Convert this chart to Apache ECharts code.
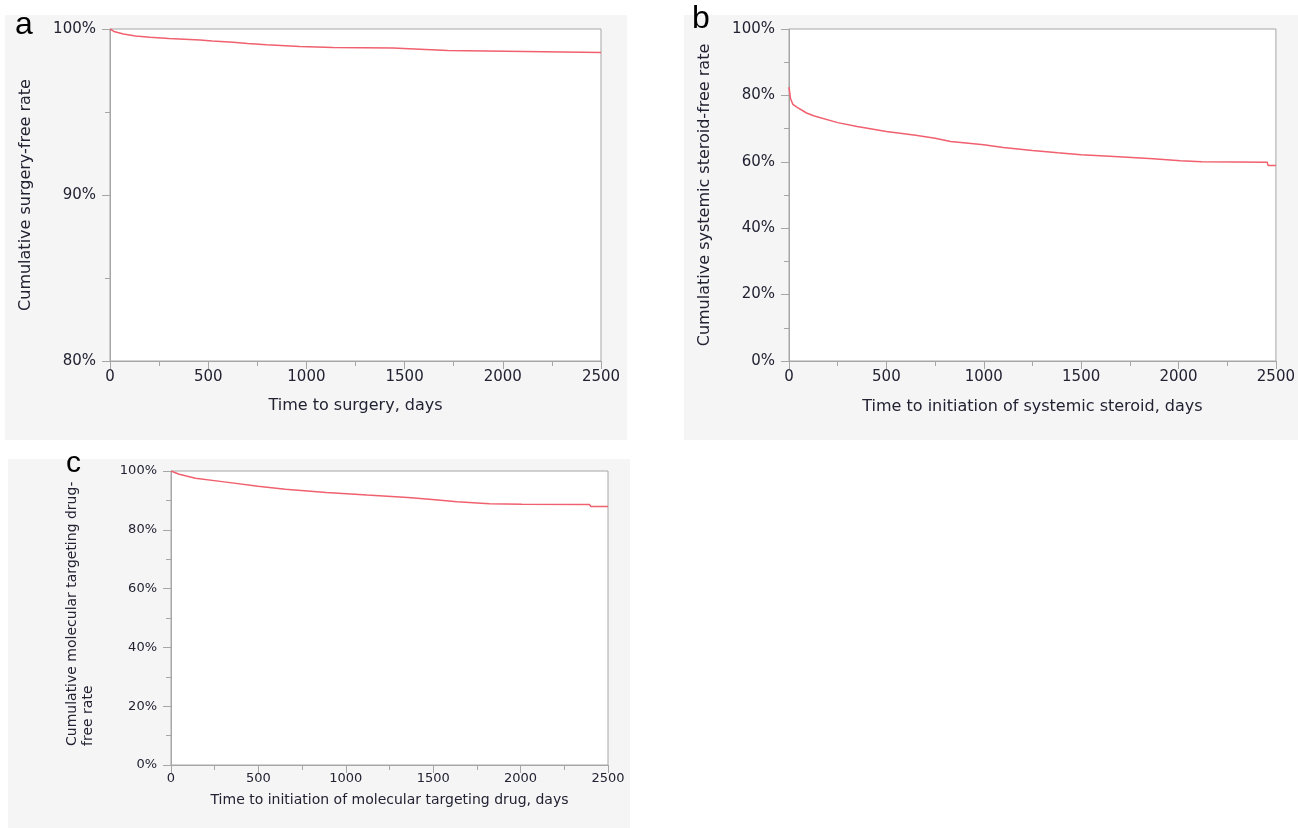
<!DOCTYPE html>
<html>
<head>
<meta charset="utf-8">
<script src="https://cdn.jsdelivr.net/npm/echarts@6/dist/echarts.min.js"></script>
<style>
html,body{margin:0;padding:0;background:#fff;}
#chart{width:1298px;height:828px;}
</style>
</head>
<body>
<div id="chart"></div>
<script>
// Panel a: time to surgery (days) vs cumulative surgery-free rate (%)
var daysA = [0, 20, 68, 130, 203, 300, 458, 520, 627, 700, 797, 966, 1136, 1441, 1450, 1551, 1555, 1720, 1722, 2500];
var rateA = [100, 99.85, 99.7, 99.58, 99.5, 99.43, 99.34, 99.28, 99.2, 99.13, 99.05, 98.95, 98.88, 98.86, 98.8, 98.8, 98.71, 98.71, 98.59, 98.58];

// Panel b: time to initiation of systemic steroid (days) vs steroid-free rate (%)
var daysB = [0, 8, 20, 40, 90, 130, 250, 350, 500, 650, 750, 830, 1000, 1100, 1250, 1380, 1500, 1670, 1675, 1870, 1875, 2010, 2120, 2455, 2460, 2500];
var rateB = [82.5, 79, 77.3, 76.5, 74.7, 73.8, 71.8, 70.6, 69.1, 68.0, 67.1, 66.1, 65.1, 64.3, 63.4, 62.7, 62.1, 61.6, 61.1, 60.9, 60.5, 60.3, 60.0, 59.9, 58.9, 58.9];

// Panel c: time to initiation of molecular targeting drug (days) vs drug-free rate (%)
var daysC = [0, 47, 140, 304, 498, 654, 888, 1121, 1355, 1495, 1636, 1822, 2009, 2395, 2402, 2500];
var rateC = [100, 98.9, 97.5, 96.3, 94.8, 93.8, 92.7, 91.8, 91.0, 90.3, 89.5, 88.9, 88.7, 88.6, 87.9, 87.9];

// Axis ticks / names
var xTicksMax = 2500, xTickStep = 500;
var yRangeA = [80, 100], yStepA = 10;
var yRangeBC = [0, 100], yStepBC = 20;
var panelLetters = ['a', 'b', 'c'];
var xNames = ['Time to surgery, days', 'Time to initiation of systemic steroid, days', 'Time to initiation of molecular targeting drug, days'];
var yNames = ['Cumulative surgery-free rate', 'Cumulative systemic steroid-free rate', 'Cumulative molecular targeting drug-\nfree rate'];

function pairs(xs, ys) { return xs.map(function (x, i) { return [x, ys[i]]; }); }

var FONT = 'DejaVu Sans';
var TXT = '#222233';
var AX = '#a6a6a6';
var LINE = '#f0606e';

function xAxisCfg(idx, fs, nameGap, labMargin) {
  return {
    type: 'value', gridIndex: idx, min: 0, max: xTicksMax, interval: xTickStep,
    name: xNames[idx], nameLocation: 'middle', nameGap: nameGap,
    nameTextStyle: { fontFamily: FONT, fontSize: fs + 1, color: TXT },
    axisLine: { show: true, lineStyle: { color: AX, width: 1 } },
    axisTick: { show: true, length: 8, lineStyle: { color: AX } },
    minorTick: { show: true, splitNumber: 2, length: 5, lineStyle: { color: AX } },
    axisLabel: { fontFamily: FONT, fontSize: fs, color: TXT, margin: labMargin, formatter: function (v) { return String(v); } },
    splitLine: { show: false }
  };
}
function yAxisCfg(idx, range, step, fs, nameGap, nameStyle) {
  return {
    type: 'value', gridIndex: idx, min: range[0], max: range[1], interval: step,
    name: yNames[idx], nameLocation: 'middle', nameGap: nameGap,
    nameTextStyle: nameStyle,
    axisLine: { show: true, lineStyle: { color: AX, width: 1 } },
    axisTick: { show: true, length: 8, lineStyle: { color: AX } },
    minorTick: { show: true, splitNumber: 2, length: 5, lineStyle: { color: AX } },
    axisLabel: { fontFamily: FONT, fontSize: fs, color: TXT, margin: 14, formatter: function (v) { return String(v) + '%'; } },
    splitLine: { show: false }
  };
}
function seriesCfg(idx, data) {
  return {
    type: 'line', xAxisIndex: idx, yAxisIndex: idx, data: data,
    showSymbol: false, symbol: 'none', smooth: false,
    lineStyle: { color: LINE, width: 1.5 }, itemStyle: { color: LINE },
    animation: false, silent: true
  };
}

var chart = echarts.init(document.getElementById('chart'), null, { renderer: 'canvas' });
var gridStyle = { show: true, backgroundColor: '#ffffff', borderColor: AX, borderWidth: 1, containLabel: false };

chart.setOption({
  backgroundColor: '#ffffff',
  animation: false,
  graphic: [
    { type: 'rect', shape: { x: 5, y: 15, width: 622, height: 425 }, style: { fill: '#f5f5f5' }, z: -10, silent: true },
    { type: 'rect', shape: { x: 684, y: 15, width: 614, height: 425 }, style: { fill: '#f5f5f5' }, z: -10, silent: true },
    { type: 'rect', shape: { x: 8, y: 459, width: 622, height: 369 }, style: { fill: '#f5f5f5' }, z: -10, silent: true },
    { type: 'text', left: 15, top: 9, style: { text: panelLetters[0], font: '32px "Liberation Sans", Arial', fill: '#000' }, z: 10 },
    { type: 'text', left: 692, top: 3, style: { text: panelLetters[1], font: '32px "Liberation Sans", Arial', fill: '#000' }, z: 10 },
    { type: 'text', left: 66, top: 449, style: { text: panelLetters[2], font: '30px "Liberation Sans", Arial', fill: '#000' }, z: 10 }
  ],
  grid: [
    Object.assign({ left: 110, top: 29, width: 491, height: 332 }, gridStyle),
    Object.assign({ left: 789, top: 29, width: 491, height: 332 }, gridStyle),
    Object.assign({ left: 171, top: 471, width: 437, height: 294 }, gridStyle)
  ],
  xAxis: [
    xAxisCfg(0, 15, 37, 9),
    xAxisCfg(1, 15, 38, 9),
    xAxisCfg(2, 13, 28, 7)
  ],
  yAxis: [
    yAxisCfg(0, yRangeA, yStepA, 15, 76, { fontFamily: FONT, fontSize: 16, color: TXT }),
    yAxisCfg(1, yRangeBC, yStepBC, 15, 76, { fontFamily: FONT, fontSize: 16, color: TXT }),
    yAxisCfg(2, yRangeBC, yStepBC, 13, 75, {
      fontFamily: FONT, fontSize: 14, color: TXT, lineHeight: 16,
      rich: { l: { fontFamily: FONT, fontSize: 14, color: TXT, width: 256, align: 'left', lineHeight: 16 } }
    })
  ],
  series: [
    seriesCfg(0, pairs(daysA, rateA)),
    seriesCfg(1, pairs(daysB, rateB)),
    seriesCfg(2, pairs(daysC, rateC))
  ]
});
// make the two-line y name of panel c left-aligned line by line
chart.setOption({ yAxis: [{}, {}, { name: yNames[2].split('\n').map(function (s) { return '{l|' + s + '}'; }).join('\n') }] });
</script>
</body>
</html>
